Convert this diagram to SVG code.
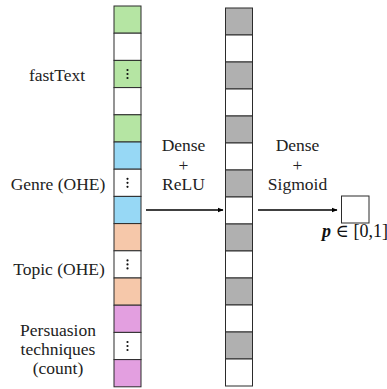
<svg xmlns="http://www.w3.org/2000/svg" width="387" height="389" viewBox="0 0 387 389">
  <style>
    .cell { stroke: #2b2b2b; stroke-width: 1; }
    .g { fill: #b5e5a3; }
    .b { fill: #97d8f5; }
    .o { fill: #f6c8aa; }
    .p { fill: #e39fe0; }
    .w { fill: #ffffff; }
    .k { fill: #b0b0b0; }
    text { font-family: "Liberation Serif", "Times New Roman", Times, "DejaVu Serif", serif; }
    .lbl { font-size: 17.5px; fill: #222; text-anchor: middle; }
    .dot { fill: #111; }
    .edge { stroke: #000; stroke-width: 1.3; fill: none; marker-end: url(#arr); }
  </style>
  <defs>
    <marker id="arr" viewBox="0 0 10 10" refX="9" refY="5" markerWidth="6" markerHeight="6" markerUnits="userSpaceOnUse" orient="auto">
      <path d="M0,1 L10,5 L0,9 z" fill="#000"/>
    </marker>
    <g id="vdots">
      <circle class="dot" cx="0" cy="-4" r="1.1"/>
      <circle class="dot" cx="0" cy="0" r="1.1"/>
      <circle class="dot" cx="0" cy="4" r="1.1"/>
    </g>
  </defs>
  <rect width="387" height="389" fill="#fff"/>

  <!-- input feature vector -->
  <g id="input">
    <g id="fasttext">
      <rect class="cell g" x="114" y="6" width="27" height="27.2"/>
      <rect class="cell w" x="114" y="33.2" width="27" height="27.2"/>
      <rect class="cell g" x="114" y="60.4" width="27" height="27.2"/>
      <use href="#vdots" x="127.5" y="74"/>
      <rect class="cell w" x="114" y="87.6" width="27" height="27.2"/>
      <rect class="cell g" x="114" y="114.8" width="27" height="27.2"/>
      <text class="lbl" x="57" y="81">fastText</text>
    </g>
    <g id="genre">
      <rect class="cell b" x="114" y="142" width="27" height="27.2"/>
      <rect class="cell w" x="114" y="169.2" width="27" height="27.2"/>
      <use href="#vdots" x="127.5" y="182.8"/>
      <rect class="cell b" x="114" y="196.4" width="27" height="27.2"/>
      <text class="lbl" x="58" y="190">Genre (OHE)</text>
    </g>
    <g id="topic">
      <rect class="cell o" x="114" y="223.6" width="27" height="27.2"/>
      <rect class="cell w" x="114" y="250.8" width="27" height="27.2"/>
      <use href="#vdots" x="127.5" y="264.4"/>
      <rect class="cell o" x="114" y="278" width="27" height="27.2"/>
      <text class="lbl" x="59" y="275">Topic (OHE)</text>
    </g>
    <g id="persuasion">
      <rect class="cell p" x="114" y="305.2" width="27" height="27.2"/>
      <rect class="cell w" x="114" y="332.4" width="27" height="27.2"/>
      <use href="#vdots" x="127.5" y="346"/>
      <rect class="cell p" x="114" y="359.6" width="27" height="27.2"/>
      <text class="lbl" x="58" y="336">Persuasion</text>
      <text class="lbl" x="58" y="355">techniques</text>
      <text class="lbl" x="58" y="374">(count)</text>
    </g>
  </g>

  <!-- hidden layer -->
  <g id="hidden">
    <rect class="cell k" x="225.5" y="8" width="27" height="27"/>
    <rect class="cell w" x="225.5" y="35" width="27" height="27"/>
    <rect class="cell k" x="225.5" y="62" width="27" height="27"/>
    <rect class="cell w" x="225.5" y="89" width="27" height="27"/>
    <rect class="cell k" x="225.5" y="116" width="27" height="27"/>
    <rect class="cell w" x="225.5" y="143" width="27" height="27"/>
    <rect class="cell k" x="225.5" y="170" width="27" height="27"/>
    <rect class="cell w" x="225.5" y="197" width="27" height="27"/>
    <rect class="cell k" x="225.5" y="224" width="27" height="27"/>
    <rect class="cell w" x="225.5" y="251" width="27" height="27"/>
    <rect class="cell k" x="225.5" y="278" width="27" height="27"/>
    <rect class="cell w" x="225.5" y="305" width="27" height="27"/>
    <rect class="cell k" x="225.5" y="332" width="27" height="27"/>
    <rect class="cell w" x="225.5" y="359" width="27" height="27"/>
  </g>

  <!-- output unit -->
  <g id="output">
    <rect class="cell w" x="341.5" y="196" width="27.5" height="27"/>
    <text x="355" y="236.5" font-size="18" fill="#111" text-anchor="middle"><tspan font-style="italic" font-weight="bold">p</tspan> ∈ [0,1]</text>
  </g>

  <!-- connectors -->
  <g id="connectors">
    <line class="edge" x1="146" y1="210" x2="223" y2="210"/>
    <line class="edge" x1="258" y1="210" x2="337" y2="210"/>
    <g id="lbl-relu">
      <text class="lbl" x="183.5" y="150.5">Dense</text>
      <text class="lbl" x="183.5" y="171">+</text>
      <text class="lbl" x="183.5" y="190">ReLU</text>
    </g>
    <g id="lbl-sigmoid">
      <text class="lbl" x="297.5" y="150.5">Dense</text>
      <text class="lbl" x="297.5" y="171">+</text>
      <text class="lbl" x="297.5" y="190">Sigmoid</text>
    </g>
  </g>
</svg>
